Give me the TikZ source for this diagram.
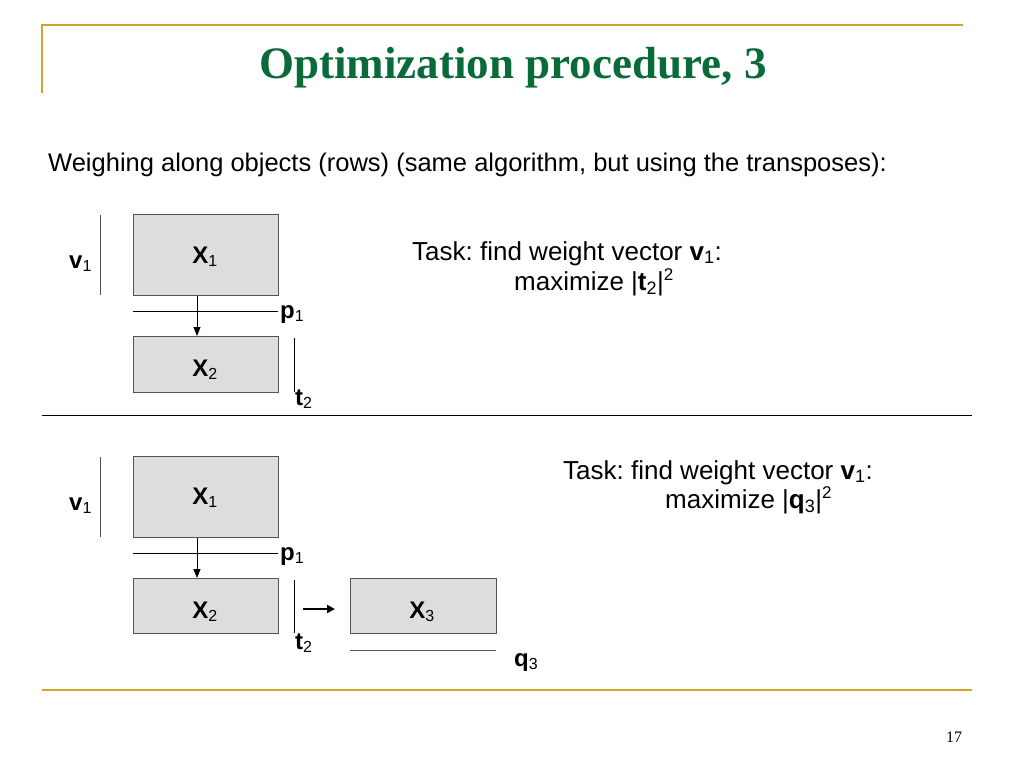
\documentclass[tikz,border=0pt]{standalone}
\usepackage{fontspec}
\setmainfont{Liberation Sans}
\newfontfamily\titlefont{Liberation Serif}
\usetikzlibrary{arrows.meta}
\frenchspacing
\definecolor{gold}{HTML}{D4A42A}
\definecolor{titlegreen}{HTML}{0A6B3A}
\definecolor{boxfill}{HTML}{DDDDDD}
\definecolor{boxline}{HTML}{555555}
\newcommand{\lsub}[1]{\textsubscript{\fontsize{16}{18}\selectfont\mdseries #1}}
\newcommand{\tsub}[1]{\textsubscript{\fontsize{18}{20}\selectfont\mdseries #1}}
\newcommand{\tsup}[1]{\textsuperscript{\fontsize{17}{19}\selectfont\mdseries #1}}
\tikzset{
  matbox/.style={draw=boxline, fill=boxfill, line width=0.9pt, inner sep=0pt},
  lab/.style={anchor=base west, inner sep=0pt, font=\fontsize{26}{30}\selectfont},
  veclab/.style={anchor=base west, inner sep=0pt, font=\fontsize{24}{28}\selectfont\bfseries},
  boxlab/.style={anchor=base, inner sep=0pt, font=\fontsize{24}{28}\selectfont\bfseries},
  vec/.style={draw=boxline, line width=0.9pt},
  goldline/.style={draw=gold, line width=2pt},
  arr/.style={-{Triangle[length=9pt,width=7pt]}, line width=0.9pt},
  thickarr/.style={-{Triangle[length=8pt,width=8pt]}, line width=2.2pt}
}
\begin{document}
\begin{tikzpicture}[x=1pt,y=-1pt]
\useasboundingbox (0,0) rectangle (1024,768);
% frame
\draw[goldline] (42,93) -- (42,25) -- (963,25);
\draw[goldline] (42,690) -- (972,690);
\draw[black, line width=0.8pt] (42,415) -- (972,415);
% title
\node[anchor=base, inner sep=0pt, text=titlegreen, font=\titlefont\fontsize{45}{50}\selectfont\bfseries] (title) at (513,78) {Optimization procedure, 3};
\node[lab, font=\fontsize{25.5}{30}\selectfont] (intro) at (48,171) {Weighing along objects (rows) (same algorithm, but using the transposes):};
% top diagram
\node[matbox, minimum width=145pt, minimum height=81pt, anchor=north west] (ax1) at (133,214) {};
\node[boxlab] (ax1l) at (205,263) {X\lsub{1}};
\node[matbox, minimum width=145pt, minimum height=56pt, anchor=north west] (ax2) at (133,336) {};
\node[boxlab] (ax2l) at (205,376) {X\lsub{2}};
\coordinate (av1a) at (100,215); \coordinate (av1b) at (100,295);
\draw[vec] (av1a) -- (av1b);
\node[veclab] (av1) at (69,268) {v\lsub{1}};
\coordinate (ap1a) at (133,311); \coordinate (ap1b) at (278,311);
\draw[black, line width=0.8pt] (ap1a) -- (ap1b);
\node[veclab] (ap1) at (280,318) {p\lsub{1}};
\draw[arr] (ax1.south -| 197,0) -- (ax2.north -| 197,0);
\coordinate (at2a) at (294,338); \coordinate (at2b) at (294,392);
\draw[black, line width=0.8pt] (at2a) -- (at2b);
\node[veclab] (at2) at (295,405) {t\lsub{2}};
\node[lab] (atask) at (412,260) {Task: find weight vector \textbf{v}\tsub{1}:};
\node[lab] (amax) at (514,290) {maximize |\textbf{t}\tsub{2}|\tsup{2}};
% bottom diagram
\node[matbox, minimum width=145pt, minimum height=81pt, anchor=north west] (bx1) at (133,456) {};
\node[boxlab] (bx1l) at (205,504) {X\lsub{1}};
\node[matbox, minimum width=145pt, minimum height=55pt, anchor=north west] (bx2) at (133,578) {};
\node[boxlab] (bx2l) at (205,618) {X\lsub{2}};
\node[matbox, minimum width=146pt, minimum height=55pt, anchor=north west] (bx3) at (350,578) {};
\node[boxlab] (bx3l) at (422,618) {X\lsub{3}};
\coordinate (bv1a) at (100,457); \coordinate (bv1b) at (100,537);
\draw[vec] (bv1a) -- (bv1b);
\node[veclab] (bv1) at (69,510) {v\lsub{1}};
\coordinate (bp1a) at (133,553); \coordinate (bp1b) at (278,553);
\draw[black, line width=0.8pt] (bp1a) -- (bp1b);
\node[veclab] (bp1) at (280,560) {p\lsub{1}};
\draw[arr] (bx1.south -| 197,0) -- (bx2.north -| 197,0);
\coordinate (bt2a) at (294,580); \coordinate (bt2b) at (294,633);
\draw[black, line width=0.8pt] (bt2a) -- (bt2b);
\node[veclab] (bt2) at (295,649) {t\lsub{2}};
\coordinate (barra) at (303,609); \coordinate (barrb) at (335,609);
\draw[thickarr] (barra) -- (barrb);
\coordinate (bq3a) at (350,650); \coordinate (bq3b) at (496,650);
\draw[vec] (bq3a) -- (bq3b);
\node[veclab] (bq3) at (514,666) {q\lsub{3}};
\node[lab] (btask) at (563,479) {Task: find weight vector \textbf{v}\tsub{1}:};
\node[lab] (bmax) at (665,508) {maximize |\textbf{q}\tsub{3}|\tsup{2}};
% page number
\node[anchor=base, inner sep=0pt, font=\titlefont\fontsize{16}{18}\selectfont] (page) at (954,742) {17};
\end{tikzpicture}
\end{document}
